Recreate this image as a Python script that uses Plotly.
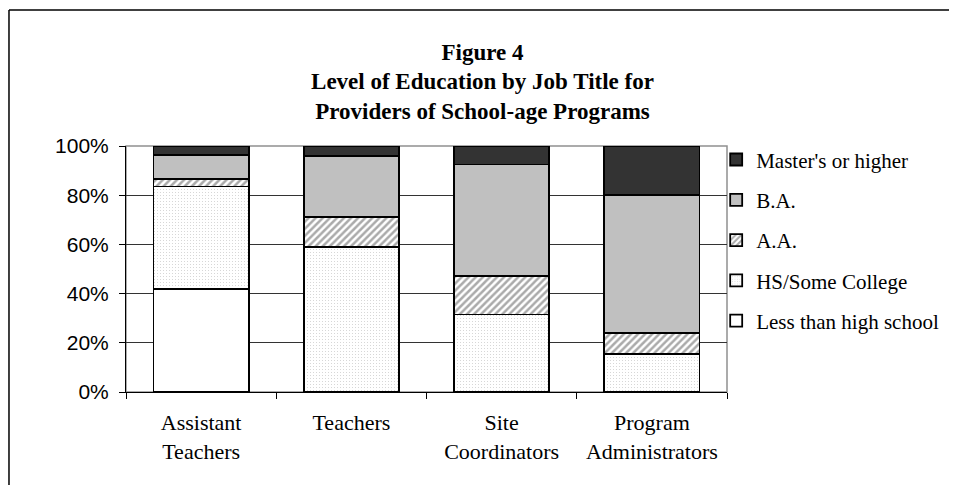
import plotly.graph_objects as go

categories = ["Assistant<br>Teachers", "Teachers", "Site<br>Coordinators", "Program<br>Administrators"]

less_than_hs = [0.42, 0.0, 0.0, 0.0]
hs_some_college = [0.415, 0.59, 0.315, 0.155]
aa = [0.03, 0.12, 0.155, 0.085]
ba = [0.10, 0.25, 0.455, 0.56]
masters = [0.035, 0.04, 0.075, 0.20]

series = [
    ("Less than high school", less_than_hs, dict(color="white")),
    ("HS/Some College", hs_some_college,
     dict(color="white", pattern=dict(shape=".", fgcolor="#a0a0a0", bgcolor="white", size=3, solidity=0.12))),
    ("A.A.", aa,
     dict(color="white", pattern=dict(shape="/", fgcolor="#555555", bgcolor="white", size=5, solidity=0.5))),
    ("B.A.", ba, dict(color="#c0c0c0")),
    ("Master's or higher", masters, dict(color="#333333")),
]

fig = go.Figure()
n = len(series)
for i, (name, vals, mk) in enumerate(series):
    mk = dict(mk)
    mk["line"] = dict(color="black", width=1.8)
    fig.add_trace(go.Bar(
        x=categories, y=vals, name=name, marker=mk, width=0.635,
        legendgroup=f"g{i}", legendrank=n - i, hoverinfo="skip",
    ))

serif = "Liberation Serif"
fig.update_layout(
    width=949, height=477,
    barmode="stack",
    paper_bgcolor="white", plot_bgcolor="white",
    margin=dict(l=118, r=230, t=138, b=93, autoexpand=False),
    title=dict(
        text="<b>Figure 4<br>Level of Education by Job Title for<br>Providers of School-age Programs</b>",
        x=0.5, xref="container", xanchor="center",
        y=0.892, yref="container", yanchor="top",
        font=dict(family=serif, size=23, color="black"),
    ),
    legend=dict(
        x=0.982, y=1.027, xanchor="left", yanchor="top",
        traceorder="grouped", tracegroupgap=10,
        font=dict(family=serif, size=21, color="black"),
        bgcolor="rgba(0,0,0,0)", itemwidth=30,
    ),
    xaxis=dict(
        showline=True, linecolor="black", linewidth=1,
        ticks="outside", tickson="boundaries", ticklen=6, tickcolor="black",
        tickfont=dict(family=serif, size=22, color="black"),
        ticklabelstandoff=11,
        showgrid=False, automargin=False,
    ),
    yaxis=dict(
        range=[0, 1], tickvals=[0, 0.2, 0.4, 0.6, 0.8, 1.0], tickformat=".0%",
        showline=True, linecolor="black", linewidth=1,
        ticks="outside", ticklen=6, tickcolor="black",
        tickfont=dict(family="Liberation Sans", size=21, color="black"),
        ticklabelstandoff=6,
        showgrid=True, gridcolor="#333333", gridwidth=1,
        zeroline=False, automargin=False,
    ),
    shapes=[
        dict(type="rect", xref="paper", yref="paper", x0=0, x1=1, y0=0, y1=1,
             line=dict(color="#909090", width=1.5), layer="below"),
        dict(type="line", xref="paper", yref="paper", x0=-0.1947, x1=-0.1947, y0=-0.5, y1=1.5528,
             line=dict(color="black", width=1.5), layer="below"),
        dict(type="line", xref="paper", yref="paper", x0=-0.1947, x1=1.5, y0=1.5528, y1=1.5528,
             line=dict(color="black", width=1.5), layer="below"),
    ],
    bargap=0.37,
)

fig.write_html("out.html")
